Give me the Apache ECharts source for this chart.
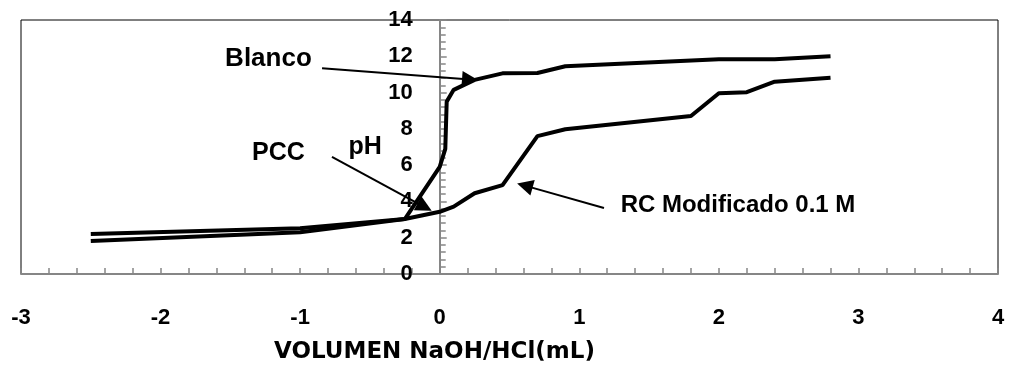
<!DOCTYPE html>
<html>
<head>
<meta charset="utf-8">
<script src="https://cdn.jsdelivr.net/npm/echarts@6/dist/echarts.min.js"></script>
<style>
  html, body { margin: 0; padding: 0; background: #fff; }
  #chart { width: 1014px; height: 375px; }
</style>
</head>
<body>
<div id="chart"></div>
<script>
// Titration curves: pH versus added volume (negative = HCl, positive = NaOH)
const blancoX = [-2.5, -1, -0.25, 0, 0.04, 0.05, 0.1, 0.25, 0.45, 0.7, 0.9, 2.0, 2.4, 2.8];
const blancoPH = [2.2, 2.52, 3.03, 5.9, 6.9, 9.5, 10.15, 10.7, 11.06, 11.08, 11.45, 11.83, 11.83, 12.0];

const rcX = [-2.5, -1, -0.25, 0, 0.1, 0.25, 0.45, 0.7, 0.9, 1.8, 2.0, 2.2, 2.4, 2.8];
const rcPH = [1.82, 2.3, 3.03, 3.43, 3.71, 4.45, 4.9, 7.6, 7.98, 8.71, 9.96, 10.02, 10.6, 10.82];

const xTicks = [-3, -2, -1, 0, 1, 2, 3, 4];
const yTicks = [0, 2, 4, 6, 8, 10, 12, 14];

// Callouts (data units): text anchor, arrow tail and arrow head
const callouts = [
  { text: 'Blanco', at: [-1.227, 11.85], from: [-0.843, 11.34], to: [0.217, 10.72], size: 26 },
  { text: 'PCC', at: [-1.155, 6.67], from: [-0.772, 6.45], to: [-0.108, 3.69], size: 25 },
  { text: 'RC Modificado 0.1 M', at: [2.137, 3.80], from: [1.177, 3.64], to: [0.610, 4.87], size: 24 }
];

const zip = (xs, ys) => xs.map((x, i) => [x, ys[i]]);

const axisGray = '#868686';
const tickFont = { fontFamily: 'Liberation Sans', fontWeight: 'bold', fontSize: 22, color: '#000' };

const chart = echarts.init(document.getElementById('chart'), null, { renderer: 'canvas' });

chart.setOption({
  animation: false,
  grid: {
    left: 21, right: 16, top: 20, bottom: 101,
    show: true, borderColor: '#000', borderWidth: 1,
    containLabel: false, outerBoundsMode: 'none'
  },
  xAxis: {
    type: 'value',
    min: xTicks[0], max: xTicks[xTicks.length - 1], interval: 1,
    name: 'VOLUMEN NaOH/HCl(mL)',
    nameLocation: 'middle',
    nameGap: 67,
    nameTextStyle: { fontFamily: 'DejaVu Sans', fontWeight: 'bold', fontSize: 23, color: '#000', padding: [0, 150, 0, 0] },
    axisLine: { show: true, onZero: false, lineStyle: { color: axisGray, width: 2 } },
    axisTick: { show: true, inside: true, length: 6, lineStyle: { color: axisGray, width: 1.5 } },
    minorTick: { show: true, splitNumber: 5, length: 6, lineStyle: { color: axisGray, width: 1.5 } },
    axisLabel: Object.assign({ margin: 33 }, tickFont),
    splitLine: { show: false }
  },
  yAxis: {
    type: 'value',
    min: yTicks[0], max: yTicks[yTicks.length - 1], interval: 2,
    name: 'pH',
    nameLocation: 'middle',
    nameRotate: 0,
    nameGap: 58,
    nameTextStyle: { fontFamily: 'Liberation Sans', fontWeight: 'bold', fontSize: 25, color: '#000' },
    axisLine: { show: true, onZero: false, lineStyle: { color: axisGray, width: 2 } },
    axisTick: { show: true, inside: true, length: 7, lineStyle: { color: axisGray, width: 1.5 } },
    minorTick: { show: true, splitNumber: 5, length: 6, lineStyle: { color: axisGray, width: 1.5 } },
    axisLabel: Object.assign({ margin: 27 }, tickFont),
    splitLine: { show: false }
  },
  series: [
    {
      name: 'Blanco',
      type: 'line',
      data: zip(blancoX, blancoPH),
      showSymbol: false,
      symbol: 'none',
      lineStyle: { color: '#000', width: 4 },
      z: 3,
      markLine: {
        silent: true,
        symbol: ['none', 'triangle'],
        symbolSize: 16,
        label: { show: false },
        lineStyle: { color: '#000', width: 2, type: 'solid' },
        itemStyle: { color: '#000' },
        emphasis: { disabled: true },
        data: callouts.map(c => [{ coord: c.from }, { coord: c.to }])
      }
    },
    {
      name: 'RC Modificado 0.1 M',
      type: 'line',
      data: zip(rcX, rcPH),
      showSymbol: false,
      symbol: 'none',
      lineStyle: { color: '#000', width: 4 },
      z: 3
    }
  ]
});

// The pH axis crosses the volume axis at zero: shift it (line, ticks and labels) there
const gridLeft = chart.convertToPixel({ gridIndex: 0 }, [xTicks[0], 0])[0];
const zeroX = chart.convertToPixel({ gridIndex: 0 }, [0, 0])[0];

chart.setOption({
  yAxis: { offset: gridLeft - zeroX },
  // Callout texts placed through the grid's coordinate system
  graphic: callouts.map(c => {
    const p = chart.convertToPixel({ gridIndex: 0 }, c.at);
    return {
      type: 'text',
      x: p[0], y: p[1],
      style: {
        text: c.text,
        fill: '#000',
        font: 'bold ' + c.size + 'px "Liberation Sans", Arial, sans-serif',
        textAlign: 'center',
        textVerticalAlign: 'middle'
      },
      z: 10
    };
  })
});
</script>
</body>
</html>
